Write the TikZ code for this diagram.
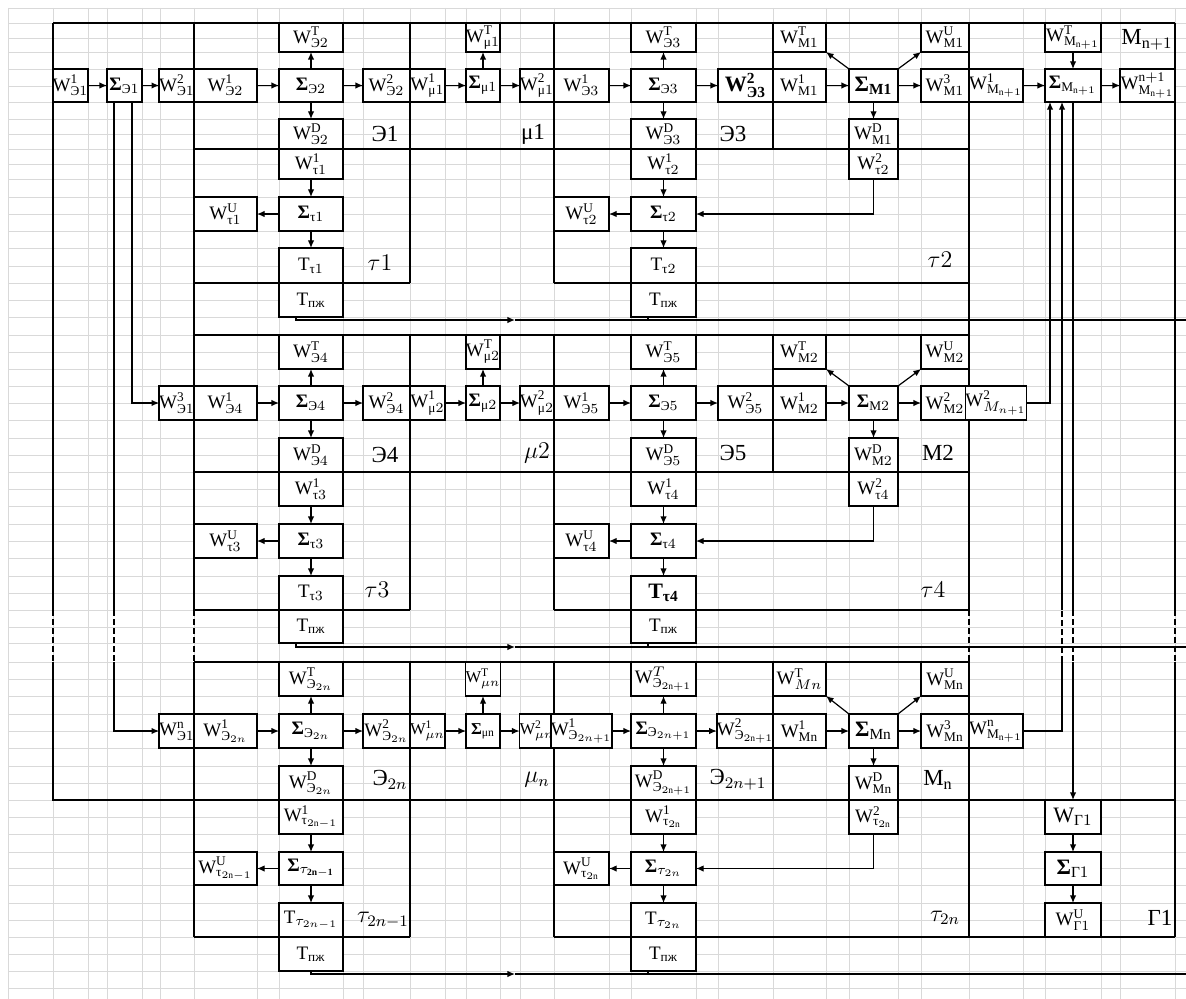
\documentclass[tikz,border=0pt]{standalone}
\usepackage{amsmath}
\usepackage{fontspec}
\setmainfont{Liberation Serif}
\usetikzlibrary{arrows.meta,calc}
\tikzset{
 box/.style={draw, line width=0.9pt, inner sep=0pt, outer sep=0pt, fill=white, font=\fontsize{9.5}{10}\selectfont},
 bigbox/.style={box, font=\fontsize{11}{12}\selectfont},
 smallbox/.style={box, font=\fontsize{8.3}{9}\selectfont},
 frame/.style={line width=0.9pt},
 fdash/.style={line width=0.6pt, dash pattern=on 3pt off 1.5pt},
 arr/.style={line width=0.6pt, -{Latex[length=3.8pt,width=3.2pt]}},
 wire/.style={line width=0.6pt},
 lbl/.style={font=\fontsize{11.5}{12}\selectfont, inner sep=0pt},
 gridl/.style={black!15, line width=0.4pt}
}
\newcommand\bxs[7]{\node[#7,minimum width={(#4-#2)*0.5pt},minimum height={(#5-#3)*0.5pt}] (#1) at ({(#2+#4)/2},{(#3+#5)/2}) {#6};}
\newcommand\bx[6]{\bxs{#1}{#2}{#3}{#4}{#5}{#6}{box}}
\newcommand\Wx[2]{$\mathrm{W}^{\mathrm{#1}}_{#2}$}
\newcommand\Sx[1]{\textbf{Σ}$_{#1}$}
\newcommand\Tx[1]{$\mathrm{T}_{#1}$}
\newcommand\Ec{\text{Э}}
\newcommand\tc{\text{τ}}
\newcommand\mc{\text{μ}}
\newcommand\pz{\text{пж}}
\begin{document}
\begin{tikzpicture}[x=0.5pt,y=-0.5pt]
\fill[white] (0,0) rectangle (1186,999);
\useasboundingbox (0,0) rectangle (1186,999);
% spreadsheet grid
\foreach \x in {8,53,88,107,142,160,194,257,279,343,363,410,445,466,500,520,554,609,631,696,718,773,826,849,898,921,969,1023,1045,1101,1120,1175}
  \draw[gridl] (\x,8) -- (\x,999);
\foreach \y in {8,23,38,52,69,86,102,119,134,149,164,179,197,214,231,248,266,283,300,317,335,352,369,386,403,420,438,455,472,489,506,524,541,558,576,593,610,627,643,662,679,696,714,731,748,766,783,800,817,834,852,868,885,903,920,937,954,971,988}
  \draw[gridl] (8,\y) -- (1186,\y);
% block frames
\draw[frame] (53,23) -- (1175,23);
\draw[frame] (53,23) -- (53,610);
\draw[frame] (53,662) -- (53,800) -- (1175,800);
\draw[frame] (194,23) -- (194,610) (194,662) -- (194,937);
\draw[frame] (410,23) -- (410,283) (410,335) -- (410,610) (410,662) -- (410,937);
\draw[frame] (554,23) -- (554,283) (554,335) -- (554,610) (554,662) -- (554,937);
\draw[frame] (773,23) -- (773,149) (773,335) -- (773,472) (773,662) -- (773,800);
\draw[frame] (969,23) -- (969,610) (969,662) -- (969,937);
\draw[frame] (1175,23) -- (1175,610) (1175,662) -- (1175,937);
\draw[frame] (194,149) -- (969,149) (194,283) -- (410,283) (554,283) -- (969,283);
\draw[frame] (194,335) -- (969,335) (194,472) -- (969,472) (194,610) -- (410,610) (554,610) -- (969,610);
\draw[frame] (194,662) -- (969,662) (194,937) -- (410,937) (554,937) -- (1175,937);
\draw[fdash] (53,610) -- (53,662) (194,610) -- (194,662) (969,610) -- (969,662) (1175,610) -- (1175,662);

% ===== band 1 =====
\bx{we11}{53}{69}{88}{102}{\Wx{1}{\Ec1}}
\bx{se1}{107}{69}{142}{102}{\Sx{\Ec1}}
\bx{we12}{160}{69}{194}{102}{\Wx{2}{\Ec1}}
\bx{we21}{194}{69}{257}{102}{\Wx{1}{\Ec2}}
\bx{se2}{279}{69}{343}{102}{\Sx{\Ec2}}
\bx{we2T}{279}{23}{343}{52}{\Wx{T}{\Ec2}}
\bx{we22}{363}{69}{410}{102}{\Wx{2}{\Ec2}}
\bx{we2D}{279}{119}{343}{149}{\Wx{D}{\Ec2}}
\bx{wt11}{279}{149}{343}{179}{\Wx{1}{\tc1}}
\bx{st1}{279}{197}{343}{231}{\Sx{\tc1}}
\bx{wt1U}{194}{197}{257}{231}{\Wx{U}{\tc1}}
\bx{Tt1}{279}{248}{343}{283}{\Tx{\tc1}}
\bx{Tpz1}{279}{283}{343}{317}{\Tx{\pz}}
\bx{wm11}{410}{69}{445}{102}{\Wx{1}{\mc1}}
\bx{sm1}{466}{69}{500}{102}{\Sx{\mc1}}
\bx{wm1T}{466}{23}{500}{52}{\Wx{T}{\mc1}}
\bx{wm12}{520}{69}{554}{102}{\Wx{2}{\mc1}}
\bx{we31}{554}{69}{609}{102}{\Wx{1}{\Ec3}}
\bx{se3}{631}{69}{696}{102}{\Sx{\Ec3}}
\bx{we3T}{631}{23}{696}{52}{\Wx{T}{\Ec3}}
\bxs{we32}{718}{69}{773}{102}{$\mathbf{W}^{\mathbf{2}}_{\textbf{Э}\mathbf{3}}$}{bigbox}
\bx{we3D}{631}{119}{696}{149}{\Wx{D}{\Ec3}}
\bx{wt21}{631}{149}{696}{179}{\Wx{1}{\tc2}}
\bx{st2}{631}{197}{696}{231}{\Sx{\tc2}}
\bx{wt2U}{554}{197}{609}{231}{\Wx{U}{\tc2}}
\bx{Tt2}{631}{248}{696}{283}{\Tx{\tc2}}
\bx{Tpz2}{631}{283}{696}{317}{\Tx{\pz}}
\bx{wM1T}{773}{23}{826}{52}{\Wx{T}{\mathrm{M}1}}
\bx{wM11}{773}{69}{826}{102}{\Wx{1}{\mathrm{M}1}}
\bxs{sM1}{849}{69}{898}{102}{\textbf{Σ}$_{\mathbf{M1}}$}{bigbox}
\bx{wM1U}{921}{23}{969}{52}{\Wx{U}{\mathrm{M}1}}
\bx{wM13}{921}{69}{969}{102}{\Wx{3}{\mathrm{M}1}}
\bx{wM1D}{849}{119}{898}{149}{\Wx{D}{\mathrm{M}1}}
\bx{wt22}{849}{149}{898}{179}{\Wx{2}{\tc2}}
\bx{wP1}{969}{69}{1023}{102}{\Wx{1}{\mathrm{M}_{\mathrm{n}+1}}}
\bx{sP}{1045}{69}{1101}{102}{\Sx{\mathrm{M}_{\mathrm{n}+1}}}
\bx{wPT}{1045}{23}{1101}{52}{\Wx{T}{\mathrm{M}_{\mathrm{n}+1}}}
\bx{wPo}{1120}{69}{1175}{102}{\Wx{n+1}{\mathrm{M}_{\mathrm{n}+1}}}

% ===== band 2 =====
\bx{we13}{160}{386}{194}{420}{\Wx{3}{\Ec1}}
\bx{we41}{194}{386}{257}{420}{\Wx{1}{\Ec4}}
\bx{se4}{279}{386}{343}{420}{\Sx{\Ec4}}
\bx{we4T}{279}{335}{343}{369}{\Wx{T}{\Ec4}}
\bx{we42}{363}{386}{410}{420}{\Wx{2}{\Ec4}}
\bx{we4D}{279}{438}{343}{472}{\Wx{D}{\Ec4}}
\bx{wt31}{279}{472}{343}{506}{\Wx{1}{\tc3}}
\bx{st3}{279}{524}{343}{558}{\Sx{\tc3}}
\bx{wt3U}{194}{524}{257}{558}{\Wx{U}{\tc3}}
\bx{Tt3}{279}{576}{343}{610}{\Tx{\tc3}}
\bx{Tpz3}{279}{610}{343}{643}{\Tx{\pz}}
\bx{wm21}{410}{386}{445}{420}{\Wx{1}{\mc2}}
\bx{sm2}{466}{386}{500}{420}{\Sx{\mc2}}
\bx{wm2T}{466}{335}{500}{369}{\Wx{T}{\mc2}}
\bx{wm22}{520}{386}{554}{420}{\Wx{2}{\mc2}}
\bx{we51}{554}{386}{609}{420}{\Wx{1}{\Ec5}}
\bx{se5}{631}{386}{696}{420}{\Sx{\Ec5}}
\bx{we5T}{631}{335}{696}{369}{\Wx{T}{\Ec5}}
\bx{we52}{718}{386}{773}{420}{\Wx{2}{\Ec5}}
\bx{we5D}{631}{438}{696}{472}{\Wx{D}{\Ec5}}
\bx{wt41}{631}{472}{696}{506}{\Wx{1}{\tc4}}
\bx{st4}{631}{524}{696}{558}{\Sx{\tc4}}
\bx{wt4U}{554}{524}{609}{558}{\Wx{U}{\tc4}}
\bxs{Tt4}{631}{576}{696}{610}{$\mathbf{T}_{\textbf{τ}\mathbf{4}}$}{bigbox}
\bx{Tpz4}{631}{610}{696}{643}{\Tx{\pz}}
\bx{wM2T}{773}{335}{826}{369}{\Wx{T}{\mathrm{M}2}}
\bx{wM21}{773}{386}{826}{420}{\Wx{1}{\mathrm{M}2}}
\bx{sM2}{849}{386}{898}{420}{\Sx{\mathrm{M}2}}
\bx{wM2U}{921}{335}{969}{369}{\Wx{U}{\mathrm{M}2}}
\bx{wM22}{921}{386}{969}{420}{\Wx{2}{\mathrm{M}2}}
\bx{wM2D}{849}{438}{898}{472}{\Wx{D}{\mathrm{M}2}}
\bx{wt42}{849}{472}{898}{506}{\Wx{2}{\tc4}}
\bxs{wP2}{969}{386}{1023}{420}{\Wx{2}{M_{n+1}}}{box}

% ===== band 3 =====
\bx{we1n}{160}{714}{194}{748}{\Wx{n}{\Ec1}}
\bx{wA1}{194}{714}{257}{748}{\Wx{1}{\Ec_{2n}}}
\bx{sA}{279}{714}{343}{748}{\Sx{\Ec_{2n}}}
\bx{wAT}{279}{662}{343}{696}{\Wx{T}{\Ec_{2n}}}
\bx{wA2}{363}{714}{410}{748}{\Wx{2}{\Ec_{2n}}}
\bx{wAD}{279}{766}{343}{800}{\Wx{D}{\Ec_{2n}}}
\bx{wtA1}{279}{800}{343}{834}{\Wx{1}{\tc_{2\mathrm{n}-1}}}
\bx{stA}{279}{852}{343}{885}{\Sx{\tau_{\mathbf{2n-1}}}}
\bx{wtAU}{194}{852}{257}{885}{\Wx{U}{\tc_{2\mathrm{n}-1}}}
\bx{TtA}{279}{903}{343}{937}{\Tx{\tau_{2n-1}}}
\bx{Tpz5}{279}{937}{343}{971}{\Tx{\pz}}
\bxs{wmn1}{410}{714}{445}{748}{\Wx{1}{\mu n}}{smallbox}
\bxs{smn}{466}{714}{500}{748}{\Sx{\mc\mathrm{n}}}{smallbox}
\bxs{wmnT}{466}{662}{500}{696}{\Wx{T}{\mu n}}{smallbox}
\bxs{wmn2}{520}{714}{554}{748}{\Wx{2}{\mu n}}{smallbox}
\bx{wB1}{554}{714}{609}{748}{\Wx{1}{\Ec_{2n+1}}}
\bx{sB}{631}{714}{696}{748}{\Sx{\Ec_{2n+1}}}
\bx{wBT}{631}{662}{696}{696}{$\mathrm{W}^{T}_{\Ec_{2\mathrm{n}+1}}$}
\bx{wB2}{718}{714}{773}{748}{\Wx{2}{\Ec_{2\mathrm{n}+1}}}
\bx{wBD}{631}{766}{696}{800}{\Wx{D}{\Ec_{2\mathrm{n}+1}}}
\bx{wtB1}{631}{800}{696}{834}{\Wx{1}{\tc_{2\mathrm{n}}}}
\bx{stB}{631}{852}{696}{885}{\Sx{\tau_{2n}}}
\bx{wtBU}{554}{852}{609}{885}{\Wx{U}{\tc_{2\mathrm{n}}}}
\bx{TtB}{631}{903}{696}{937}{\Tx{\tau_{2n}}}
\bx{Tpz6}{631}{937}{696}{971}{\Tx{\pz}}
\bx{wMnT}{773}{662}{826}{696}{\Wx{T}{Mn}}
\bx{wMnI}{773}{714}{826}{748}{\Wx{1}{\mathrm{Mn}}}
\bxs{sMn}{849}{714}{898}{748}{\Sx{\mathrm{Mn}}}{bigbox}
\bx{wMnU}{921}{662}{969}{696}{\Wx{U}{\mathrm{Mn}}}
\bx{wMn3}{921}{714}{969}{748}{\Wx{3}{\mathrm{Mn}}}
\bx{wMnD}{849}{766}{898}{800}{\Wx{D}{\mathrm{Mn}}}
\bx{wtB2}{849}{800}{898}{834}{\Wx{2}{\tc_{2\mathrm{n}}}}
\bx{wPn}{969}{714}{1023}{748}{\Wx{n}{\mathrm{M}_{\mathrm{n}+1}}}
\bxs{wG1}{1045}{800}{1101}{834}{$\mathrm{W}_{\text{Γ}1}$}{bigbox}
\bxs{sG1}{1045}{852}{1101}{885}{\Sx{\text{Γ}1}}{bigbox}
\bx{wG1U}{1045}{903}{1101}{937}{\Wx{U}{\text{Γ}1}}

% ===== block labels =====
\node[lbl] (lE1) at (385,134) {Э1};
\node[lbl] (lm1) at (533,134) {μ1};
\node[lbl] (lE3) at (733,134) {Э3};
\node[lbl] (lt1) at (380,263) {$\tau1$};
\node[lbl] (lt2) at (940,260) {$\tau2$};
\node[lbl] (lMP) at (1147,40) {$\mathrm{M}_{\mathrm{n}+1}$};
\node[lbl] (lE4) at (385,455) {Э4};
\node[lbl] (lm2) at (537,453) {$\mu2$};
\node[lbl] (lE5) at (733,453) {Э5};
\node[lbl] (lM2) at (938,453) {M2};
\node[lbl] (lt3) at (377,590) {$\tau3$};
\node[lbl] (lt4) at (933,590) {$\tau4$};
\node[lbl] (lEA) at (390,780) {Э$_{2n}$};
\node[lbl] (lmn) at (537,780) {$\mu_n$};
\node[lbl] (lEB) at (738,780) {Э$_{2n+1}$};
\node[lbl] (lMn) at (938,780) {$\mathrm{M}_{\mathrm{n}}$};
\node[lbl] (ltA) at (383,920) {$\tau_{2n-1}$};
\node[lbl] (ltB) at (945,918) {$\tau_{2n}$};
\node[lbl] (lG1) at (1160,918) {Γ1};

% ===== connectors band 1 =====
\draw[arr] (we11) -- (se1);
\draw[arr] (se1) -- (we12);
\draw[arr] (we21) -- (se2);
\draw[arr] (se2) -- (we22);
\draw[arr] (se2) -- (we2T);
\draw[arr] (se2) -- (we2D);
\draw[arr] (wt11) -- (st1);
\draw[arr] (st1) -- (wt1U);
\draw[arr] (st1) -- (Tt1);
\draw[arr] (wm11) -- (sm1);
\draw[arr] (sm1) -- (wm1T);
\draw[arr] (sm1) -- (wm12);
\draw[arr] (we31) -- (se3);
\draw[arr] (se3) -- (we3T);
\draw[arr] (se3) -- (we3D);
\draw[arr] (se3) -- (we32);
\draw[arr] (wt21) -- (st2);
\draw[arr] (st2) -- (wt2U);
\draw[arr] (st2) -- (Tt2);
\draw[arr] (wM11) -- (sM1);
\draw[arr] (sM1.north west) -- (wM1T.south east);
\draw[arr] (sM1.north east) -- (wM1U.south west);
\draw[arr] (sM1) -- (wM13);
\draw[arr] (sM1) -- (wM1D);
\draw[arr] (wt22.south) |- (st2.east);
\draw[arr] (wP1) -- (sP);
\draw[arr] (wPT) -- (sP);
\draw[arr] (sP) -- (wPo);

% ===== connectors band 2 =====
\draw[arr] (we41) -- (se4);
\draw[arr] (se4) -- (we42);
\draw[arr] (se4) -- (we4T);
\draw[arr] (se4) -- (we4D);
\draw[arr] (wt31) -- (st3);
\draw[arr] (st3) -- (wt3U);
\draw[arr] (st3) -- (Tt3);
\draw[arr] (wm21) -- (sm2);
\draw[arr] (sm2) -- (wm2T);
\draw[arr] (sm2) -- (wm22);
\draw[arr] (we51) -- (se5);
\draw[arr] (se5) -- (we5T);
\draw[arr] (se5) -- (we5D);
\draw[arr] (se5) -- (we52);
\draw[arr] (wt41) -- (st4);
\draw[arr] (st4) -- (wt4U);
\draw[arr] (st4) -- (Tt4);
\draw[arr] (wM21) -- (sM2);
\draw[arr] (sM2.north west) -- (wM2T.south east);
\draw[arr] (sM2.north east) -- (wM2U.south west);
\draw[arr] (sM2) -- (wM22);
\draw[arr] (sM2) -- (wM2D);
\draw[arr] (wt42.south) |- (st4.east);

% ===== connectors band 3 =====
\draw[arr] (wA1) -- (sA);
\draw[arr] (sA) -- (wA2);
\draw[arr] (sA) -- (wAT);
\draw[arr] (sA) -- (wAD);
\draw[arr] (wtA1) -- (stA);
\draw[arr] (stA) -- (wtAU);
\draw[arr] (stA) -- (TtA);
\draw[arr] (wmn1) -- (smn);
\draw[arr] (smn) -- (wmnT);
\draw[arr] (smn) -- (wmn2);
\draw[arr] (wB1) -- (sB);
\draw[arr] (sB) -- (wBT);
\draw[arr] (sB) -- (wBD);
\draw[arr] (sB) -- (wB2);
\draw[arr] (wtB1) -- (stB);
\draw[arr] (stB) -- (wtBU);
\draw[arr] (stB) -- (TtB);
\draw[arr] (wMnI) -- (sMn);
\draw[arr] (sMn.north west) -- (wMnT.south east);
\draw[arr] (sMn.north east) -- (wMnU.south west);
\draw[arr] (sMn) -- (wMn3);
\draw[arr] (sMn) -- (wMnD);
\draw[arr] (wtB2.south) |- (stB.east);
\draw[arr] (wG1) -- (sG1);
\draw[arr] (sG1) -- (wG1U);

% ===== distribution from Sigma_E1 =====
\draw[arr] ($(se1.south east)+(-10,0)$) |- (we13.west);
\coordinate (d1a) at (114,610);
\coordinate (d1b) at (114,662);
\draw[wire] ($(se1.south west)+(7,0)$) -- (d1a);
\draw[fdash] (d1a) -- (d1b);
\draw[arr] (d1b) |- (we1n.west);

% ===== collection into Sigma_M(n+1) =====
\draw[arr] (wP2.east) -| ($(sP.south west)+(5,0)$);
\coordinate (g1) at (1062,662);
\coordinate (g2) at (1062,610);
\draw[wire] (wPn.east) -| (g1);
\draw[fdash] (g1) -- (g2);
\draw[arr] (g2) -- ($(sP.south west)+(17,0)$);
\coordinate (h1) at (1073,610);
\coordinate (h2) at (1073,662);
\draw[wire] (sP.south) -- (h1);
\draw[fdash] (h1) -- (h2);
\draw[arr] (h2) -- (wG1.north);

% ===== T_pzh lines =====
\coordinate (m1) at (515,320); \coordinate (r1) at (1186,320);
\draw[arr] ($(Tpz1.south west)+(17,0)$) |- (m1);
\draw[wire] (m1) -- (r1);
\draw[wire] ($(Tpz2.south west)+(17,0)$) -- ++(0,3);
\coordinate (m2) at (515,647); \coordinate (r2) at (1186,647);
\draw[arr] ($(Tpz3.south west)+(17,0)$) |- (m2);
\draw[wire] (m2) -- (r2);
\draw[wire] ($(Tpz4.south west)+(17,0)$) -- ++(0,4);
\coordinate (m3) at (515,974); \coordinate (r3) at (1186,974);
\draw[arr] (Tpz5.south) |- (m3);
\draw[wire] (m3) -- (r3);
\draw[wire] ($(Tpz6.south west)+(17,0)$) -- ++(0,3);
\end{tikzpicture}
\end{document}
